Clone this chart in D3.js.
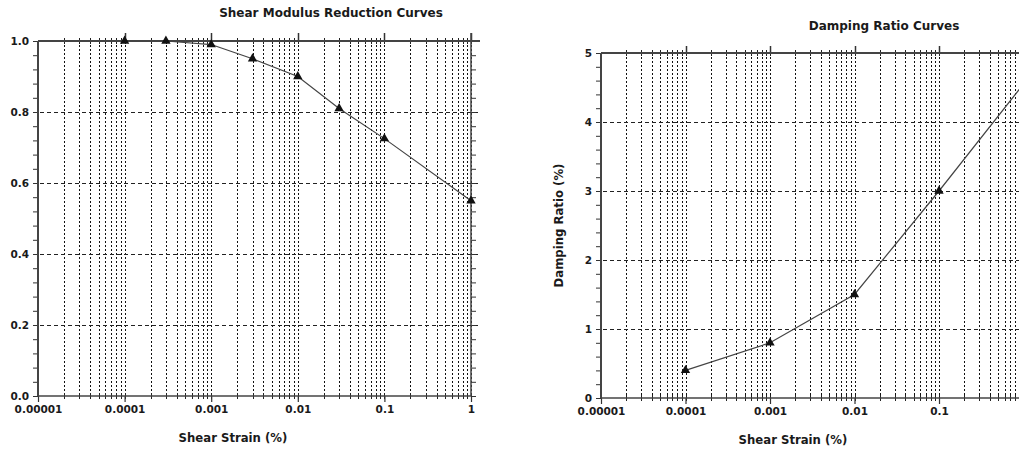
<!DOCTYPE html>
<html>
<head>
<meta charset="utf-8">
<script src="https://cdn.jsdelivr.net/npm/d3@7"></script>
<style>
  body { margin: 0; background: #fff; }
  text { font-family: "DejaVu Sans", sans-serif; font-weight: bold; fill: #1a1a1a; }
</style>
</head>
<body>
<script>
// decade ticks on the strain axis (log scale)
var strainTicks = [0.00001, 0.0001, 0.001, 0.01, 0.1, 1];
var strainTickLabels = ['0.00001', '0.0001', '0.001', '0.01', '0.1', '1'];

// shear modulus reduction (G/Gmax)
var modulusStrain = [0.0001, 0.0003, 0.001, 0.003, 0.01, 0.03, 0.1, 1];
var modulusRatio = [1.0, 1.0, 0.99, 0.95, 0.90, 0.81, 0.725, 0.55];
var modulusTicks = [0, 0.2, 0.4, 0.6, 0.8, 1.0];

// damping ratio (%)
var dampingStrain = [0.0001, 0.001, 0.01, 0.1, 1];
var dampingRatio = [0.4, 0.8, 1.5, 3.0, 4.55];
var dampingTicks = [0, 1, 2, 3, 4, 5];

var svgWidth = 1019;
var svg = d3.select('body').append('svg')
    .attr('width', svgWidth)
    .attr('height', 450);

// minor positions 1..9 inside each decade
var minorStrain = [];
strainTicks.slice(0, -1).forEach(function(d) {
    for (var k = 1; k < 10; k++) minorStrain.push(+(d * k).toPrecision(3));
});
minorStrain.push(1);

function drawChart(c) {
    var x = d3.scaleLog().domain([0.00001, 1]).range([c.left, c.right]);
    var y = d3.scaleLinear().domain([0, c.yTicks[c.yTicks.length - 1]]).range([c.bottom, c.top]);
    var g = svg.append('g');

    var yMinor = d3.range(0, c.yTicks[c.yTicks.length - 1] + 1e-9, c.yMinorStep);
    var px = d => Math.round(x(d)) + 0.5;

    // vertical dotted grid
    g.selectAll('.vgrid').data(minorStrain.filter(d => d > 0.00001))
        .enter().append('line')
        .attr('class', 'vgrid')
        .attr('x1', px).attr('x2', px)
        .attr('y1', c.top).attr('y2', c.bottom)
        .attr('stroke', '#111')
        .attr('stroke-width', 1)
        .attr('stroke-dasharray', '2,2');

    // horizontal dashed grid
    g.selectAll('.hgrid').data(c.yTicks.slice(1))
        .enter().append('line')
        .attr('class', 'hgrid')
        .attr('x1', c.left - 5).attr('x2', c.gridRight)
        .attr('y1', d => Math.round(y(d)) + 0.5).attr('y2', d => Math.round(y(d)) + 0.5)
        .attr('stroke', '#222')
        .attr('stroke-dasharray', '4,3');

    // small crossing ticks along top and bottom frame
    [c.top, c.bottom].forEach(function(yy) {
        g.selectAll(null).data(minorStrain.filter(d => d > 0.00001))
            .enter().append('line')
            .attr('x1', px).attr('x2', px)
            .attr('y1', yy - 3).attr('y2', yy + 3)
            .attr('stroke', '#222');
    });
    // decade ticks poking above the top line
    g.selectAll(null).data(strainTicks.slice(1))
        .enter().append('line')
        .attr('x1', px).attr('x2', px)
        .attr('y1', c.top - c.topPoke).attr('y2', c.top)
        .attr('stroke', '#333')
        .attr('stroke-width', 1.5);

    // x axis with decade labels (only those inside the picture)
    var shown = strainTicks.filter(d => x(d) < svgWidth);
    var xAxis = d3.axisBottom(x)
        .tickValues(shown)
        .tickFormat(d => strainTickLabels[strainTicks.indexOf(d)])
        .tickSize(6)
        .tickPadding(4);
    var xg = g.append('g')
        .attr('transform', 'translate(0,' + c.bottom + ')')
        .call(xAxis);
    xg.select('.domain').remove();
    xg.selectAll('.tick line').attr('stroke', '#333').attr('stroke-width', 1.2);
    xg.selectAll('text').style('font-size', '10.5px').style('font-family', '"DejaVu Sans", sans-serif').attr('fill', '#1a1a1a');

    // y axis, major labels + minor ticks
    var yAxis = d3.axisLeft(y)
        .tickValues(c.yTicks)
        .tickFormat(c.yFormat)
        .tickSize(5)
        .tickPadding(4);
    var yg = g.append('g')
        .attr('transform', 'translate(' + c.left + ',0)')
        .call(yAxis);
    yg.select('.domain').remove();
    yg.selectAll('.tick line').attr('stroke', '#333');
    yg.selectAll('text').style('font-size', '10.5px').style('font-family', '"DejaVu Sans", sans-serif').attr('fill', '#1a1a1a');

    var ygMinor = g.append('g')
        .attr('transform', 'translate(' + c.left + ',0)')
        .call(d3.axisLeft(y).tickValues(yMinor).tickFormat('').tickSize(5));
    ygMinor.select('.domain').remove();
    ygMinor.selectAll('.tick line').attr('stroke', '#333');

    if (c.rightFrame) {
        var ygRight = g.append('g')
            .attr('transform', 'translate(' + c.right + ',0)')
            .call(d3.axisRight(y).tickValues(yMinor).tickFormat('').tickSize(5));
        ygRight.select('.domain').remove();
        ygRight.selectAll('.tick line').attr('stroke', '#333');
        g.append('line')
            .attr('x1', c.right).attr('x2', c.right)
            .attr('y1', c.top - c.topPoke).attr('y2', c.bottom)
            .attr('stroke', '#444').attr('stroke-width', 1.5);
    }

    // frame lines
    g.append('line')
        .attr('x1', c.left).attr('x2', c.topRight)
        .attr('y1', c.top).attr('y2', c.top)
        .attr('stroke', '#444').attr('stroke-width', 2);
    g.append('line')
        .attr('x1', c.left).attr('x2', c.right)
        .attr('y1', c.bottom).attr('y2', c.bottom)
        .attr('stroke', '#444').attr('stroke-width', 1.5);
    g.append('line')
        .attr('x1', c.left).attr('x2', c.left)
        .attr('y1', c.top).attr('y2', c.bottom)
        .attr('stroke', '#444').attr('stroke-width', 2);

    // curve
    var pts = c.xs.map((s, i) => ({s: s, v: c.ys[i]}));
    g.append('path')
        .datum(pts)
        .attr('fill', 'none')
        .attr('stroke', '#444')
        .attr('stroke-width', 1.2)
        .attr('d', d3.line().x(d => x(d.s)).y(d => y(d.v)));

    g.selectAll('.marker').data(pts)
        .enter().append('path')
        .attr('class', 'marker')
        .attr('transform', d => 'translate(' + x(d.s) + ',' + y(d.v) + ')')
        .attr('d', d3.symbol().type(d3.symbolTriangle).size(38))
        .attr('fill', '#111');

    // titles
    svg.append('text')
        .attr('x', c.titleX).attr('y', c.titleY)
        .attr('text-anchor', 'middle')
        .style('font-size', '12px')
        .text(c.title);

    svg.append('text')
        .attr('x', c.xLabelX).attr('y', c.xLabelY)
        .attr('text-anchor', 'middle')
        .style('font-size', '11.7px')
        .text('Shear Strain (%)');

    if (c.yLabel) {
        svg.append('text')
            .attr('transform', 'translate(' + c.yLabelX + ',' + ((c.top + c.bottom) / 2) + ') rotate(-90)')
            .attr('text-anchor', 'middle')
            .style('font-size', '11.7px')
            .text(c.yLabel);
    }
}

drawChart({
    left: 38, right: 471, top: 41, bottom: 396,
    gridRight: 480, topRight: 480, topPoke: 8, rightFrame: true,
    yTicks: modulusTicks, yMinorStep: 0.04, yFormat: d3.format('.1f'),
    xs: modulusStrain, ys: modulusRatio,
    title: 'Shear Modulus Reduction Curves', titleX: 331, titleY: 17,
    xLabelX: 233, xLabelY: 442
});

drawChart({
    left: 601, right: 1023.5, top: 53, bottom: 398,
    gridRight: 1030, topRight: 1030, topPoke: 7, rightFrame: false,
    yTicks: dampingTicks, yMinorStep: 0.2, yFormat: d3.format('d'),
    xs: dampingStrain, ys: dampingRatio,
    title: 'Damping Ratio Curves', titleX: 884, titleY: 30,
    xLabelX: 793, xLabelY: 444,
    yLabel: 'Damping Ratio (%)', yLabelX: 563
});
</script>
</body>
</html>
